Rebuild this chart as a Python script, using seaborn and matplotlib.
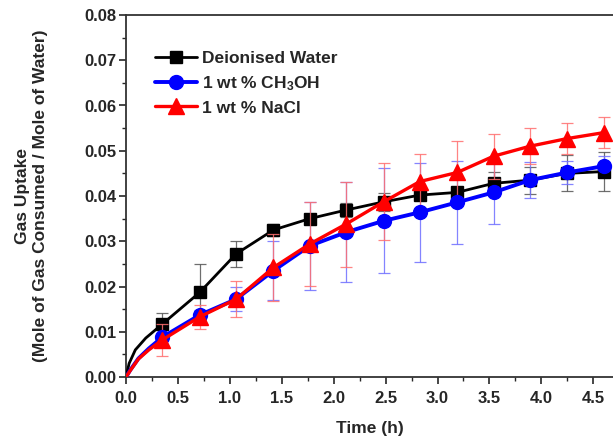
import numpy as np
import pandas as pd
import seaborn as sns
import matplotlib
matplotlib.use("Agg")
import matplotlib.pyplot as plt
from matplotlib.lines import Line2D
from matplotlib.ticker import MultipleLocator, FormatStrFormatter

# ---- data ----
time_pts = [0.35, 0.71, 1.06, 1.42, 1.77, 2.12, 2.48, 2.83, 3.19, 3.54, 3.89, 4.25, 4.60]

water = [0.0117, 0.0187, 0.0272, 0.0325, 0.0350, 0.0369, 0.0387, 0.0402, 0.0408, 0.0428, 0.0435, 0.0450, 0.0454]
water_err = [0.0025, 0.0062, 0.0028, 0.0013, 0.0010, 0.0015, 0.0020, 0.0006, 0.0010, 0.0025, 0.0030, 0.0040, 0.0044]

methanol = [0.0088, 0.0137, 0.0172, 0.0235, 0.0290, 0.0320, 0.0345, 0.0364, 0.0386, 0.0408, 0.0435, 0.0452, 0.0466]
methanol_err = [0.0015, 0.0010, 0.0026, 0.0065, 0.0097, 0.0110, 0.0116, 0.0110, 0.0091, 0.0069, 0.0040, 0.0026, 0.0022]

nacl = [0.0082, 0.0133, 0.0172, 0.0242, 0.0294, 0.0338, 0.0387, 0.0432, 0.0452, 0.0488, 0.0510, 0.0527, 0.0540]
nacl_err = [0.0035, 0.0027, 0.0040, 0.0074, 0.0093, 0.0094, 0.0085, 0.0060, 0.0070, 0.0050, 0.0040, 0.0035, 0.0035]

# early part of the curves (before the first marker)
early_t_water = [0.0, 0.03, 0.09, 0.19]
early_water = [0.0, 0.0030, 0.0060, 0.0086]
early_t_other = [0.0, 0.04, 0.12, 0.22]
early_methanol = [0.0, 0.0015, 0.0041, 0.0063]
early_nacl = [0.0, 0.0014, 0.0040, 0.0060]

labels = ["Deionised Water", "1 wt % CH$_3$OH", "1 wt % NaCl"]
colors = ["#000000", "#0000ff", "#ff0000"]
err_colors = ["#555555", "#6f6fff", "#ff6f6f"]
markers = ["s", "o", "^"]
msizes = [9, 10, 11]
lws = [2.0, 2.8, 2.4]

sns.set_style("ticks")
plt.rcParams["font.family"] = ["Liberation Sans", "DejaVu Sans"]
plt.rcParams["font.weight"] = "bold"
plt.rcParams["mathtext.fontset"] = "custom"
plt.rcParams["mathtext.bf"] = "Liberation Sans:bold"
plt.rcParams["mathtext.rm"] = "Liberation Sans:bold"
plt.rcParams["mathtext.default"] = "bf"

fig = plt.figure(figsize=(6.13, 4.40), dpi=100)
ax = fig.add_axes([126 / 613, 63 / 440, 487 / 613, 362 / 440])

series = [
    (early_t_water, early_water, water, water_err),
    (early_t_other, early_methanol, methanol, methanol_err),
    (early_t_other, early_nacl, nacl, nacl_err),
]

handles = []
for i, (et, ey, y, e) in enumerate(series):
    ax.errorbar(time_pts, y, yerr=e, fmt="none", ecolor=err_colors[i],
                elinewidth=0.9, capsize=4, capthick=0.9, alpha=0.85, zorder=2 + i,
                clip_on=False)
    df_line = pd.DataFrame({"t": list(et) + list(time_pts), "y": list(ey) + list(y)})
    sns.lineplot(data=df_line, x="t", y="y", ax=ax, color=colors[i], lw=lws[i],
                 zorder=3 + i, legend=False)
    ax.plot(time_pts, y, ls="none", marker=markers[i], ms=msizes[i],
            color=colors[i], mec=colors[i], zorder=4 + i, clip_on=False)
    handles.append(Line2D([0], [0], color=colors[i], lw=lws[i], marker=markers[i],
                          ms=msizes[i]))

ax.set_xlim(0, 4.69)
ax.set_ylim(0, 0.08)
ax.xaxis.set_major_locator(MultipleLocator(0.5))
ax.xaxis.set_minor_locator(MultipleLocator(0.25))
ax.yaxis.set_major_locator(MultipleLocator(0.01))
ax.yaxis.set_minor_locator(MultipleLocator(0.005))
ax.xaxis.set_major_formatter(FormatStrFormatter("%.1f"))
ax.yaxis.set_major_formatter(FormatStrFormatter("%.2f"))
ax.tick_params(axis="both", which="major", length=5, width=1.2, labelsize=12,
               direction="out")
ax.tick_params(axis="x", which="major", pad=5)
ax.tick_params(axis="y", which="major", pad=2)
ax.tick_params(axis="both", which="minor", length=3, width=1.0, direction="out")
for lab in ax.get_xticklabels() + ax.get_yticklabels():
    lab.set_fontweight("bold")
ax.spines["right"].set_visible(False)
for sp in ax.spines.values():
    sp.set_linewidth(1.3)
    sp.set_color("#333333")

ax.set_xlabel("Time (h)", fontsize=12.5, fontweight="bold", labelpad=11)
ax.set_ylabel("Gas Uptake\n(Mole of Gas Consumed / Mole of Water)", fontsize=12.5,
              fontweight="bold", labelpad=26, linespacing=1.25)

leg = ax.legend(handles, labels, loc="upper left", bbox_to_anchor=(0.045, 0.92),
                frameon=False, handlelength=2.4, handletextpad=0.3,
                labelspacing=0.45, borderaxespad=0.0,
                prop={"weight": "bold", "size": 12.5})

fig.savefig("out.png", dpi=100)
